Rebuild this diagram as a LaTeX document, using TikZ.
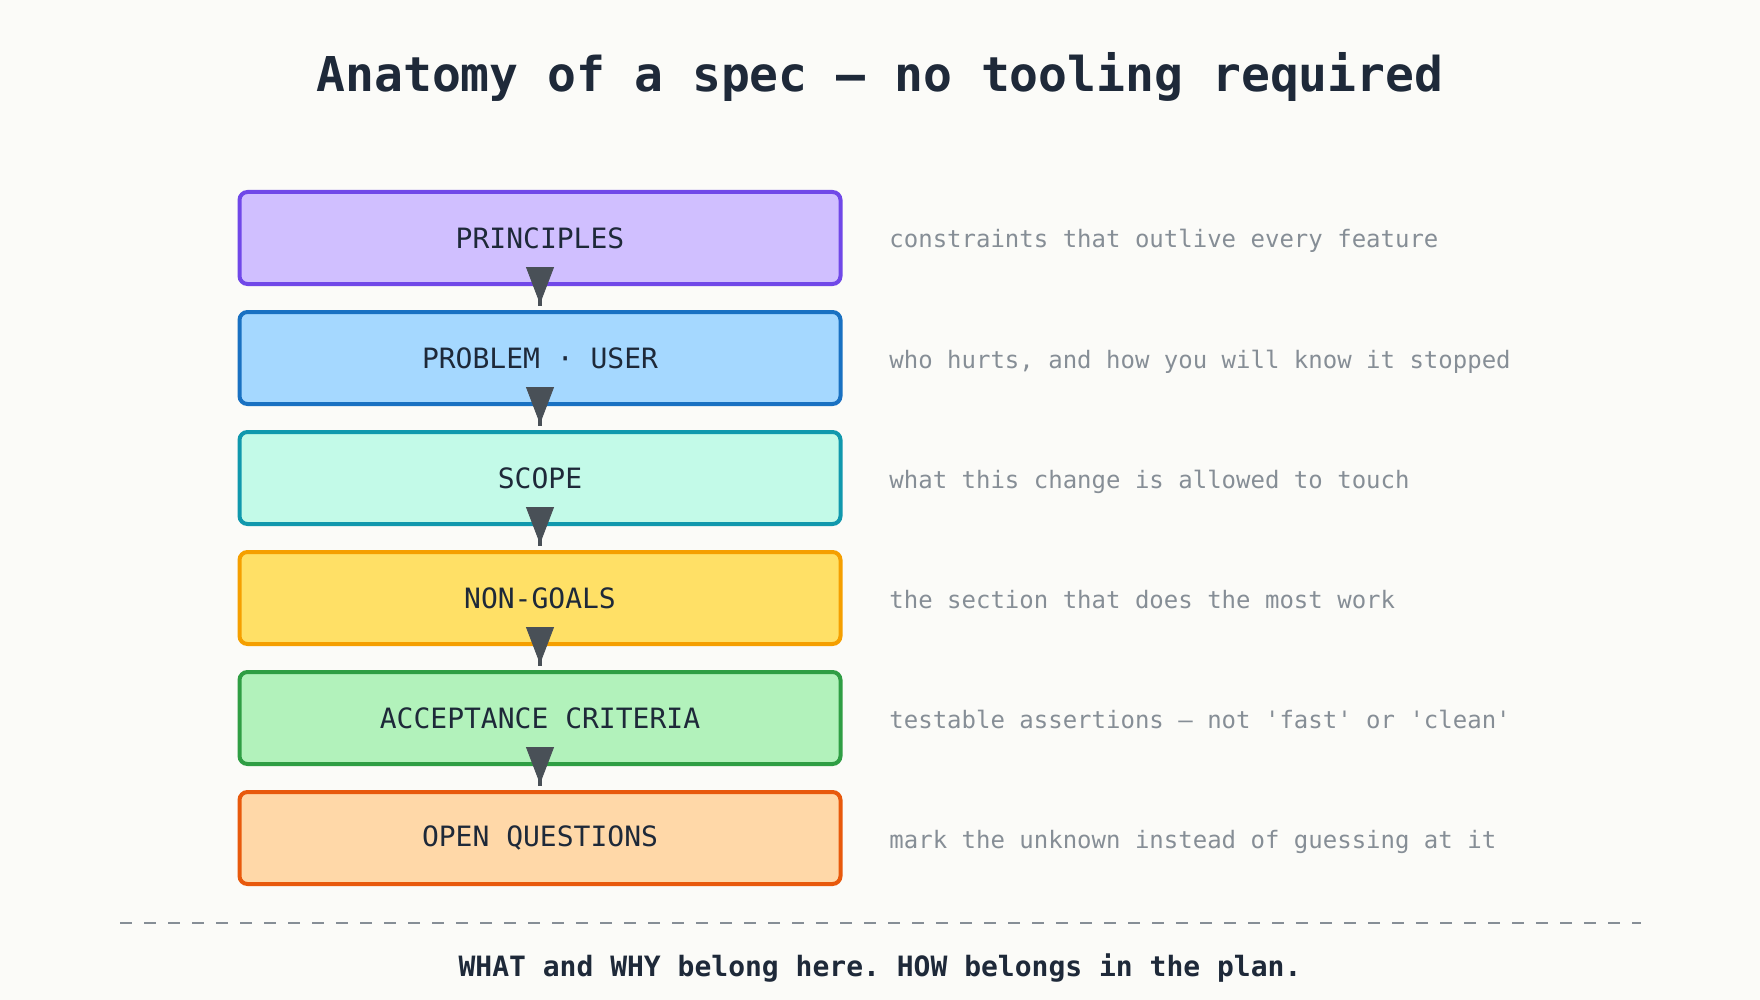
\documentclass[tikz,border=0pt]{standalone}
\usepackage{fontspec}
\setmonofont{DejaVu Sans Mono}
\usepackage{tikz}
\usetikzlibrary{arrows.meta}

\definecolor{paper}{HTML}{FBFBF8}
\definecolor{ink}{HTML}{1E2939}
\definecolor{muted}{HTML}{868E96}
\definecolor{tipgray}{HTML}{495057}
\definecolor{violetfill}{HTML}{D0BFFF}
\definecolor{violetline}{HTML}{7048E8}
\definecolor{bluefill}{HTML}{A5D8FF}
\definecolor{blueline}{HTML}{1971C2}
\definecolor{tealfill}{HTML}{C3FAE8}
\definecolor{tealline}{HTML}{1098AD}
\definecolor{yellowfill}{HTML}{FFE066}
\definecolor{yellowline}{HTML}{F59F00}
\definecolor{greenfill}{HTML}{B2F2BB}
\definecolor{greenline}{HTML}{2F9E44}
\definecolor{orangefill}{HTML}{FFD8A8}
\definecolor{orangeline}{HTML}{E8590C}

\begin{document}
\begin{tikzpicture}[x=0.5pt, y=-0.5pt,
  section/.style={rectangle, rounded corners=4pt, line width=2pt, minimum width=300.5pt, minimum height=46pt, inner sep=0pt, text=ink, font=\ttfamily\fontsize{14}{16}\selectfont},
  note/.style={anchor=base west, inner sep=0pt, text=muted, font=\ttfamily\fontsize{12}{14}\selectfont},
  stem/.style={line width=2pt, tipgray, shorten >=2pt},
  tip/.style={line width=0.4pt, tipgray, -{Triangle[length=18.5pt, width=14pt]}}]
  \fill [paper] (0,0) rectangle (1760,1000);
  \node (title) [anchor=base, text=ink, font=\ttfamily\bfseries\fontsize{24}{28}\selectfont] at (880, 92) {Anatomy of a spec — no tooling required};
  \node (principles) [section, draw=violetline, fill=violetfill] at (540, 238) {PRINCIPLES};
  \node (problem) [section, draw=blueline, fill=bluefill] at (540, 358) {PROBLEM · USER};
  \node (scope) [section, draw=tealline, fill=tealfill] at (540, 478) {SCOPE};
  \node (nongoals) [section, draw=yellowline, fill=yellowfill] at (540, 598) {NON-GOALS};
  \node (criteria) [section, draw=greenline, fill=greenfill] at (540, 718) {ACCEPTANCE CRITERIA};
  \node (questions) [section, draw=orangeline, fill=orangefill] at (540, 838) {OPEN QUESTIONS};
  \node (principlesnote) [note] at (889, 248) {constraints that outlive every feature};
  \node (problemnote) [note] at (889, 368) {who hurts, and how you will know it stopped};
  \node (scopenote) [note] at (889, 488) {what this change is allowed to touch};
  \node (nongoalsnote) [note] at (889, 608) {the section that does the most work};
  \node (criterianote) [note] at (889, 728) {testable assertions — not 'fast' or 'clean'};
  \node (questionsnote) [note] at (889, 848) {mark the unknown instead of guessing at it};
  \draw [stem] (principles.south) -- (problem.north);
  \draw [tip] ([yshift=7.5pt]principles.south) -- ([yshift=3pt]problem.north);
  \draw [stem] (problem.south) -- (scope.north);
  \draw [tip] ([yshift=7.5pt]problem.south) -- ([yshift=3pt]scope.north);
  \draw [stem] (scope.south) -- (nongoals.north);
  \draw [tip] ([yshift=7.5pt]scope.south) -- ([yshift=3pt]nongoals.north);
  \draw [stem] (nongoals.south) -- (criteria.north);
  \draw [tip] ([yshift=7.5pt]nongoals.south) -- ([yshift=3pt]criteria.north);
  \draw [stem] (criteria.south) -- (questions.north);
  \draw [tip] ([yshift=7.5pt]criteria.south) -- ([yshift=3pt]questions.north);
  \draw [muted, line width=1.3pt, dash pattern=on 6pt off 6pt] (120, 923) -- (1641, 923);
  \node (footer) [anchor=base, text=ink, font=\ttfamily\bfseries\fontsize{14}{16}\selectfont] at (880, 976) {WHAT and WHY belong here. HOW belongs in the plan.};
\end{tikzpicture}
\end{document}
